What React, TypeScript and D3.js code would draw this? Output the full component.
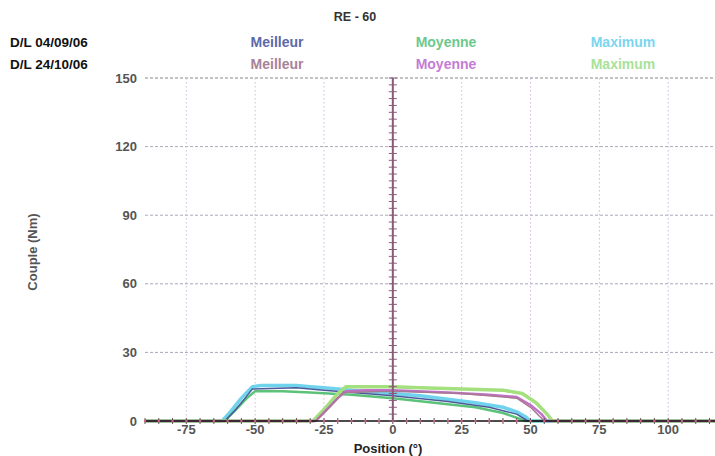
import React from 'react';
import * as d3 from 'd3';

// session labels and legend names
const sessions = ['D/L 04/09/06', 'D/L 24/10/06'];
const legendNames = ['Meilleur', 'Moyenne', 'Maximum'];

// x ticks / y ticks
const xTicks = [-75, -50, -25, 0, 25, 50, 75, 100];
const yTicks = [0, 30, 60, 90, 120, 150];

// session 1 (04/09/06)
const s1MaxX = [-90, -62, -59, -55, -51, -48, -35, -30, -25, -15, -5, 0, 10, 20, 30, 40, 45, 48, 50, 117];
const s1MaxY = [0, 0, 4, 10, 15, 15.5, 15.5, 15, 14.5, 13.5, 12.5, 12, 11, 9.5, 8, 6, 4, 2, 0, 0];
const s1MoyX = [-90, -61, -57, -53, -50, -40, -30, -15, 0, 15, 30, 40, 46, 48, 117];
const s1MoyY = [0, 0, 5, 10, 13, 13, 12.5, 11.5, 10, 8, 6, 3.5, 1, 0, 0];
const s1BestX = [-90, -61, -57, -53, -51, -35, -25, 0, 20, 35, 45, 49, 117];
const s1BestY = [0, 0, 5, 11, 14, 14.5, 13.5, 11, 8.5, 6, 3, 0, 0];

// session 2 (24/10/06)
const s2MaxX = [-90, -29, -25, -20, -17, 0, 10, 25, 40, 47, 52, 56, 58, 117];
const s2MaxY = [0, 0, 5, 12, 15, 15, 14.5, 14, 13.5, 12, 8, 3, 0, 0];
const s2MoyX = [-90, -28, -24, -20, -17, -10, 0, 20, 35, 45, 50, 54, 56, 117];
const s2MoyY = [0, 0, 5, 10, 13, 13.5, 13.5, 12.5, 11.5, 10.5, 7, 3, 0, 0];
const s2BestX = [-90, -28, -23, -18, 0, 25, 45, 50, 55, 117];
const s2BestY = [0, 0, 6, 12.5, 13, 12, 10, 6, 0, 0];

const series = [
  { xs: s1MaxX, ys: s1MaxY, color: '#6fd3ee', w: 3.5 },
  { xs: s1MoyX, ys: s1MoyY, color: '#5cc27a', w: 2.5 },
  { xs: s1BestX, ys: s1BestY, color: '#4a5a9a', w: 1.5 },
  { xs: s2MaxX, ys: s2MaxY, color: '#a4e07e', w: 3.5 },
  { xs: s2MoyX, ys: s2MoyY, color: '#c070c8', w: 2.5 },
  { xs: s2BestX, ys: s2BestY, color: '#a87890', w: 1.5 },
];

const legendColors = [
  ['#5a6aa8', '#6cc88c', '#7ad6f0'],
  ['#a88298', '#c47cd4', '#a8e29a'],
];

export default function App() {
  const width = 715;
  const height = 456;
  const x = d3.scaleLinear().domain([-90, 117]).range([145, 715]);
  const y = d3.scaleLinear().domain([0, 150]).range([421, 78]);
  const font = '"Liberation Sans", Arial, sans-serif';

  const line = d3.line<[number, number]>()
    .x((d) => x(d[0]))
    .y((d) => y(d[1]));

  const minorX = d3.range(-90, 118, 5);
  const minorY = d3.range(0, 151, 3);

  return (
    <svg width={width} height={height} style={{ position: 'absolute', left: 0, top: 0, background: '#fff' }}>
      {/* header */}
      <text x={355} y={21} textAnchor="middle" fontFamily={font} fontWeight="bold" fontSize={12.5} fill="#333">RE - 60</text>
      {sessions.map((s, i) => (
        <text key={s} x={10} y={47 + i * 22} fontFamily={font} fontWeight="bold" fontSize={13.5} fill="#111">{s}</text>
      ))}
      {sessions.map((s, i) =>
        legendNames.map((n, j) => (
          <text key={s + n} x={[277, 446, 623][j]} y={47 + i * 22} textAnchor="middle" fontFamily={font}
            fontWeight="bold" fontSize={14} fill={legendColors[i][j]}>{n}</text>
        ))
      )}

      {/* grid */}
      {yTicks.filter((t) => t > 0).map((t) => (
        <line key={'h' + t} x1={145} x2={715} y1={y(t)} y2={y(t)} stroke={t === 150 ? '#888' : '#a8a8b8'}
          strokeWidth={1} strokeDasharray="3,2" />
      ))}
      {xTicks.filter((t) => t !== 0).map((t) => (
        <line key={'v' + t} x1={x(t)} x2={x(t)} y1={y(150)} y2={y(0)} stroke="#d0b8e0" strokeWidth={1}
          strokeDasharray="1.5,2.5" />
      ))}

      {/* curves */}
      {series.map((s, i) => (
        <path key={i} d={line(s.xs.map((v, k) => [v, s.ys[k]]) as [number, number][]) || ''}
          fill="none" stroke={s.color} strokeWidth={s.w} strokeLinejoin="round" />
      ))}

      {/* x axis */}
      <line x1={145} x2={715} y1={y(0)} y2={y(0)} stroke="#111" strokeWidth={1.5} />
      {minorX.map((t) => (
        <g key={'mx' + t}>
          <line x1={x(t)} x2={x(t)} y1={y(0) - 3} y2={y(0) + 3} stroke="#555" strokeWidth={1} />
          <circle cx={x(t)} cy={y(0)} r={1.2} fill="#d06080" />
        </g>
      ))}

      {/* y axis at 0 */}
      <line x1={x(0)} x2={x(0)} y1={y(150)} y2={y(0)} stroke="#8a5a7a" strokeWidth={2} />
      {minorY.map((t) => (
        <line key={'my' + t} x1={x(0) - 4} x2={x(0) + 4} y1={y(t)} y2={y(t)} stroke="#8a5a7a" strokeWidth={1} />
      ))}

      {/* tick labels */}
      {yTicks.map((t) => (
        <text key={'yl' + t} x={137} y={y(t) + 4.5} textAnchor="end" fontFamily={font} fontWeight="bold"
          fontSize={13} fill="#555">{t}</text>
      ))}
      {xTicks.map((t) => (
        <text key={'xl' + t} x={x(t)} y={y(0) + 13} textAnchor="middle" fontFamily={font} fontWeight="bold"
          fontSize={13} fill="#555">{t}</text>
      ))}

      {/* axis titles */}
      <text x={388} y={453} textAnchor="middle" fontFamily={font} fontWeight="bold" fontSize={13} fill="#222">Position (°)</text>
      <text transform="translate(37,252) rotate(-90)" textAnchor="middle" fontFamily={font} fontWeight="bold"
        fontSize={13} fill="#555">Couple (Nm)</text>
    </svg>
  );
}
